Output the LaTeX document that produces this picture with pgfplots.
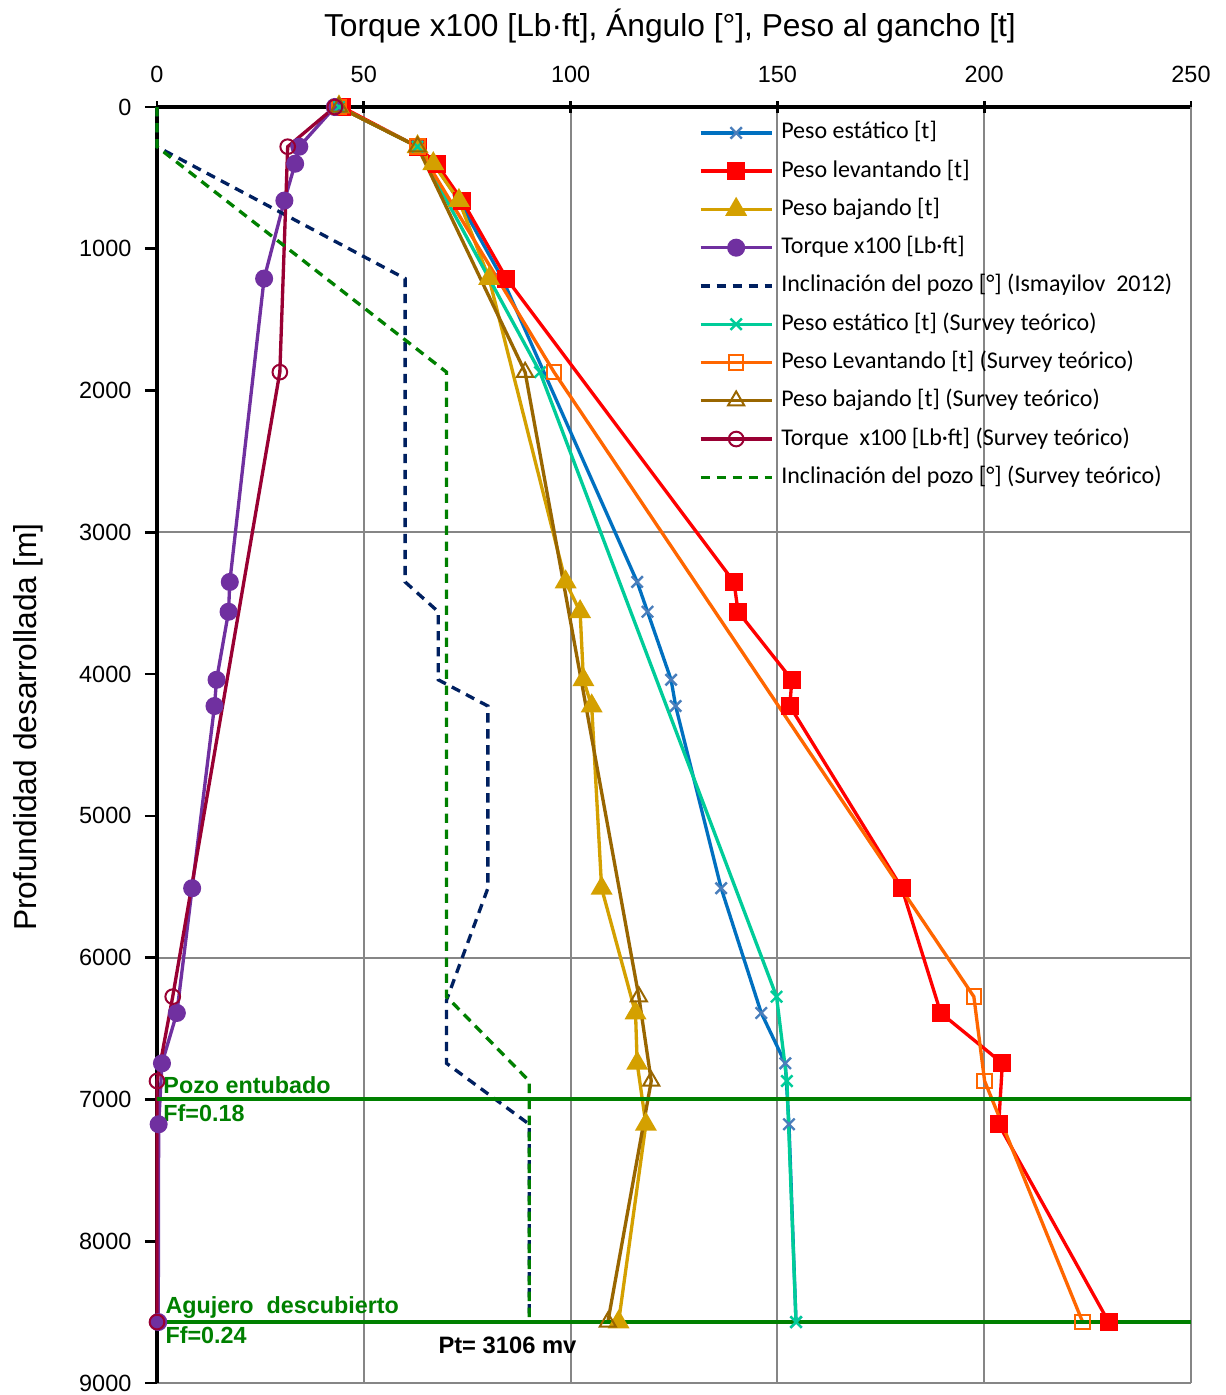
\documentclass[border=0pt]{standalone}
\usepackage{fontspec}
\setmainfont{Liberation Sans}
\newfontfamily\legfont{Carlito}
\usepackage{pgfplots}
\pgfplotsset{compat=1.18}
\definecolor{cEst}{RGB}{0,112,192}
\definecolor{cEstM}{RGB}{74,126,187}
\definecolor{cLev}{RGB}{255,0,0}
\definecolor{cBaj}{RGB}{212,160,0}
\definecolor{cTor}{RGB}{112,48,160}
\definecolor{cInc}{RGB}{0,32,96}
\definecolor{cEstS}{RGB}{0,204,153}
\definecolor{cLevS}{RGB}{255,102,0}
\definecolor{cBajS}{RGB}{153,102,0}
\definecolor{cTorS}{RGB}{153,0,51}
\definecolor{cIncS}{RGB}{0,128,0}
\definecolor{cGrid}{RGB}{134,134,134}
\begin{document}
\begin{tikzpicture}
\useasboundingbox (-117.75pt,-9pt) rectangle (801pt,1037.25pt);
\begin{axis}[
  scale only axis, width=775.5pt, height=957pt,
  xmin=0, xmax=250, ymin=0, ymax=9000, y dir=reverse,
  clip=false,
  axis line style={draw=none},
  xtick={0,50,...,250}, ytick={0,1000,...,9000},
  xtick pos=right, xticklabel pos=right,
  ytick pos=left, yticklabel pos=left,
  xmajorgrids, ymajorgrids=false,
  major grid style={cGrid, line width=1.5pt},
  extra y ticks={3000,6000,9000}, extra y tick labels={},
  extra y tick style={ymajorgrids=true, major tick length=0pt},
  /pgf/number format/assume math mode=true,
  /pgf/number format/set thousands separator={},
  tick label style={font=\fontsize{17.6}{20}\selectfont},
  xticklabel style={anchor=base, inner sep=0pt, yshift=13.8pt},
  yticklabel style={anchor=east, inner sep=0pt, xshift=-10pt},
  x tick style={black, line width=2pt},
  y tick style={black, line width=2pt},
  xtick align=center, ytick align=outside,
  major tick length=9pt,
  legend cell align=left,
  legend style={draw=none, fill=none, inner sep=0pt, outer sep=0pt,
    at={(axis description cs:0.5242,0.9886)}, anchor=north west,
    font=\legfont\fontsize{18}{20}\selectfont,
    nodes={inner sep=0pt, text height=13pt, text depth=4pt},
    row sep=11.7pt, column sep=6pt},
  legend image code/.code={\draw[mark repeat=2,mark phase=2,#1] plot coordinates {(0pt,0pt) (26.6pt,0pt) (53.2pt,0pt)};},
]
% axis lines
\draw[black, line width=3pt] (axis cs:0,0) -- (axis cs:250,0);
\draw[black, line width=3pt] (axis cs:0,0) -- (axis cs:0,9000);
\draw[cGrid, line width=1.5pt] (axis cs:250,0) -- (axis cs:250,9000);

\addplot[cEst, line width=2.5pt, mark=x, mark size=6pt, mark options={draw=cEstM, line width=1.8pt}] coordinates {
(44,0) (63,280) (67,400) (73,660) (83.5,1210) (116.1,3350) (118.6,3560) (124.3,4040) (125.4,4225) (136.4,5510) (146.1,6390) (151.9,6745) (152.8,7175) (154.5,8570)};
\addlegendentry{Peso estático [t]}

\addplot[cLev, line width=2.5pt, mark=square*, mark size=5.5pt, mark options={solid, fill=cLev}] coordinates {
(44.7,0) (63,280) (67.6,400) (73.8,660) (84.5,1210) (139.5,3350) (140.5,3560) (153.5,4040) (153.0,4225) (180.1,5510) (189.5,6390) (204.4,6745) (203.5,7175) (230.1,8570)};
\addlegendentry{Peso levantando [t]}

\addplot[cBaj, line width=2.5pt, mark=triangle*, mark size=7pt, mark options={solid, fill=cBaj}] coordinates {
(44,0) (63,280) (66.8,400) (73.0,660) (80.3,1210) (98.8,3350) (102.3,3560) (103.1,4040) (105.1,4225) (107.5,5510) (115.7,6390) (116.1,6745) (118.2,7175) (111.6,8570)};
\addlegendentry{Peso bajando [t]}

\addplot[cTor, line width=2.5pt, mark=*, mark size=5.5pt, mark options={solid, fill=cTor}] coordinates {
(43,0) (34.4,280) (33.4,400) (30.8,660) (25.9,1210) (17.6,3350) (17.3,3560) (14.4,4040) (13.9,4225) (8.5,5510) (4.8,6390) (1.2,6745) (0.4,7175) (0.3,8570)};
\addlegendentry{Torque x100 [Lb·ft]}

\addplot[cInc, line width=2.5pt, dash pattern=on 7pt off 5pt] coordinates {
(0,0) (0,280) (60,1210) (60,3350) (68,3560) (68,4040) (80,4225) (80,5510) (70,6300) (70,6745) (90,7175) (90,8570)};
\addlegendentry{Inclinación del pozo [°] (Ismayilov\ \ 2012)}

\addplot[cEstS, line width=2.5pt, mark=x, mark size=6pt, mark options={solid, line width=1.8pt}] coordinates {
(44,0) (63,280) (92.6,1870) (149.8,6275) (152.3,6870) (154.5,8570)};
\addlegendentry{Peso estático [t] (Survey teórico)}

\addplot[cLevS, line width=2.5pt, mark=square, mark size=5.5pt, mark options={solid, line width=1.5pt, fill=white}] coordinates {
(44,0) (63,280) (96.0,1870) (197.5,6275) (200.1,6870) (223.8,8570)};
\addlegendentry{Peso Levantando [t] (Survey teórico)}

\addplot[cBajS, line width=2.5pt, mark=triangle, mark size=7pt, mark options={solid, line width=1.5pt}] coordinates {
(44,0) (63,280) (89.0,1870) (116.5,6275) (119.5,6870) (109.0,8570)};
\addlegendentry{Peso bajando [t] (Survey teórico)}

\addplot[cTorS, line width=2.5pt, mark=o, mark size=5.5pt, mark options={solid, line width=1.5pt}] coordinates {
(43,0) (31.6,280) (29.7,1870) (3.8,6275) (0,6870) (0,8570)};
\addlegendentry{Torque\ \ x100 [Lb·ft] (Survey teórico)}

\addplot[cIncS, line width=2.5pt, dash pattern=on 7pt off 5pt] coordinates {
(0,0) (0,280) (70,1870) (70,6275) (90,6870) (90,8570)};
\addlegendentry{Inclinación del pozo [°] (Survey teórico)}

\addplot[cIncS, line width=3pt, forget plot] coordinates {(0,7000) (250,7000)};
\addplot[cIncS, line width=3pt, forget plot] coordinates {(0,8570) (250,8570)};

\node[anchor=base west, inner sep=0pt, text=cIncS, font=\bfseries\fontsize{17.5}{20}\selectfont] at (axis cs:1.5,6957) {Pozo entubado};
\node[anchor=base west, inner sep=0pt, text=cIncS, font=\bfseries\fontsize{17.5}{20}\selectfont] at (axis cs:1.5,7152) {Ff=0.18};
\node[anchor=base west, inner sep=0pt, text=cIncS, font=\bfseries\fontsize{17.5}{20}\selectfont] at (axis cs:2,8508) {Agujero\ \ descubierto};
\node[anchor=base west, inner sep=0pt, text=cIncS, font=\bfseries\fontsize{17.5}{20}\selectfont] at (axis cs:2,8720) {Ff=0.24};
\node[anchor=base west, inner sep=0pt, text=black, font=\bfseries\fontsize{17.8}{20}\selectfont] at (axis cs:68,8795) {Pt= 3106 mv};

\node[anchor=center, inner sep=0pt, font=\fontsize{23.8}{28}\selectfont] at (axis description cs:0.4961,1.0634) {Torque x100 [Lb·ft], Ángulo [°], Peso al gancho [t]};
\node[anchor=center, inner sep=0pt, rotate=90, font=\fontsize{23.8}{28}\selectfont] at (axis description cs:-0.1248,0.514) {Profundidad desarrollada [m]};
\end{axis}
\end{tikzpicture}
\end{document}
